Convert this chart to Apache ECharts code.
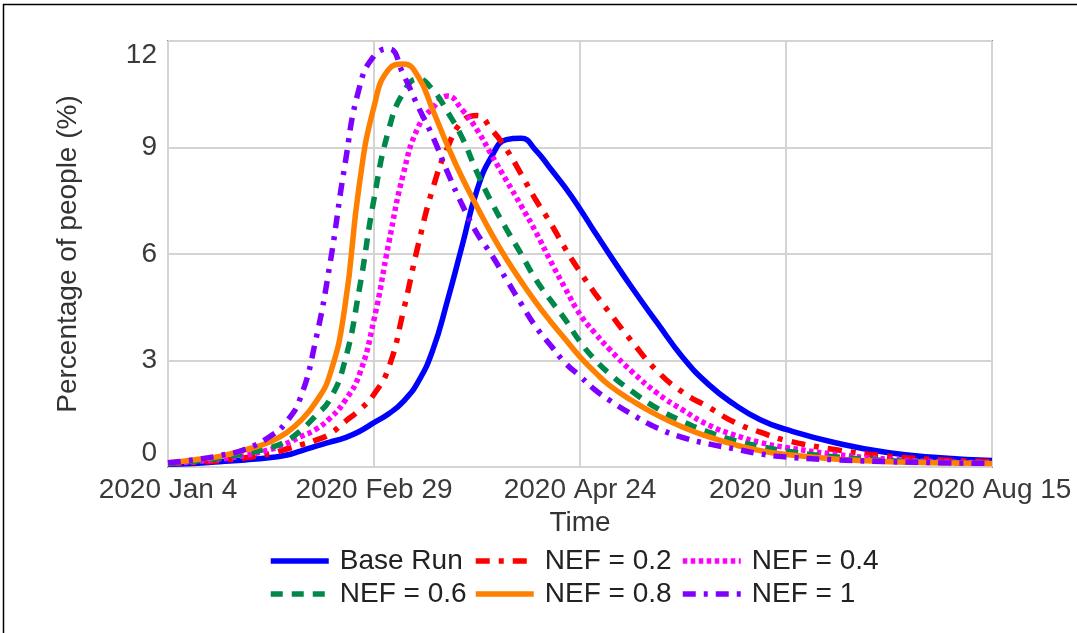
<!DOCTYPE html>
<html>
<head>
<meta charset="utf-8">
<script src="https://cdn.jsdelivr.net/npm/echarts@6/dist/echarts.min.js"></script>
<style>
html,body{margin:0;padding:0;background:#fff;}
#chart{width:1077px;height:633px;}
</style>
</head>
<body>
<div id="chart"></div>
<script>
// Day offsets from 2020 Jan 4
const days = [0,7,14,21,28,32,36,40,44,48,52,56,60,64,68,72,76,80,84,88,92,96,100,104,108,112,116,120,126,133,140,147,154,161,168,182,196,210,224];
const tickLabels = ['2020 Jan 4','2020 Feb 29','2020 Apr 24','2020 Jun 19','2020 Aug 15'];
const seriesNames = ['Base Run','NEF = 0.2','NEF = 0.4','NEF = 0.6','NEF = 0.8','NEF = 1'];

const baseRun = [0.08,0.1,0.15,0.2,0.27,0.33,0.45,0.58,0.7,0.82,1.0,1.25,1.5,1.85,2.4,3.3,4.7,6.25,7.8,8.75,9.22,9.26,8.92,8.4,7.87,7.27,6.62,5.99,5.07,4.06,3.08,2.32,1.76,1.33,1.06,0.67,0.4,0.26,0.18];
const nef02 = [0.1,0.13,0.18,0.26,0.38,0.5,0.62,0.75,0.93,1.27,1.6,2.05,2.8,4.4,6.25,7.85,9.0,9.73,9.9,9.5,8.95,8.25,7.52,6.87,6.15,5.5,4.9,4.35,3.55,2.7,2.1,1.68,1.26,0.98,0.75,0.48,0.3,0.2,0.15];
const nef04 = [0.1,0.15,0.22,0.33,0.5,0.65,0.85,1.05,1.37,1.85,2.6,4.15,6.3,8.27,9.57,10.12,10.45,10.06,9.5,8.78,8.07,7.36,6.62,5.8,5.03,4.3,3.78,3.32,2.7,2.08,1.6,1.18,0.9,0.69,0.55,0.35,0.22,0.15,0.12];
const nef06 = [0.1,0.16,0.25,0.38,0.55,0.72,1.02,1.43,1.9,2.95,5.0,7.55,9.5,10.55,10.93,10.62,10.0,9.27,8.3,7.45,6.7,6.0,5.28,4.7,4.15,3.53,3.03,2.63,2.14,1.65,1.28,0.98,0.75,0.58,0.45,0.28,0.18,0.13,0.1];
const nef08 = [0.12,0.2,0.3,0.48,0.72,0.95,1.3,1.8,2.6,4.45,7.95,10.15,11.2,11.35,11.0,10.05,9.05,8.14,7.33,6.56,5.86,5.23,4.64,4.1,3.6,3.1,2.68,2.3,1.88,1.46,1.12,0.85,0.63,0.46,0.35,0.22,0.15,0.12,0.1];
const nef10 = [0.12,0.2,0.32,0.5,0.88,1.25,1.95,3.5,5.7,8.45,10.68,11.58,11.78,11.05,10.15,9.3,8.3,7.38,6.58,5.97,5.28,4.6,3.95,3.43,2.93,2.56,2.18,1.88,1.49,1.1,0.83,0.65,0.51,0.37,0.28,0.2,0.15,0.12,0.1];

const allValues = [baseRun, nef02, nef04, nef06, nef08, nef10];
const colors = ['#0000ff','#ff0000','#ff00ff','#00884a','#ff8000','#8000ff'];
const dashes = ['solid',[14,9,5,9],[4.5,3.5],[12,9],'solid',[13,8,4,8]];

const FONT = 'Liberation Sans, Arial, sans-serif';
const chart = echarts.init(document.getElementById('chart'), null, {renderer:'canvas'});

const series = seriesNames.map((name, i) => ({
  name: name,
  type: 'line',
  data: days.map((d, k) => [d, allValues[i][k]]),
  symbol: 'none',
  smooth: 0.5,
  lineStyle: {color: colors[i], width: 5.5, type: dashes[i], cap: 'butt'},
  itemStyle: {color: colors[i]},
  z: 2 + i
}));

const legendPos = [[268,547],[473,547],[680,547],[268,580],[473,580],[680,580]];
const legends = seriesNames.map((name, i) => ({
  data: [name],
  left: legendPos[i][0],
  top: legendPos[i][1],
  orient: 'horizontal',
  itemWidth: 58,
  itemHeight: 14,
  padding: 0,
  itemStyle: {opacity: 0},
  lineStyle: {width: 5.5},
  textStyle: {fontFamily: FONT, fontSize: 28, color: '#222', padding: [0,0,0,6]}
}));

chart.setOption({
  animation: false,
  backgroundColor: '#ffffff',
  grid: {left: 168, right: 85, top: 41, bottom: 166, show: true, borderColor: '#8c8c8c', borderWidth: 2, backgroundColor: 'transparent'},
  xAxis: {
    type: 'value', min: 0, max: 224, interval: 56,
    name: 'Time', nameLocation: 'middle', nameGap: 40,
    nameTextStyle: {fontFamily: FONT, fontSize: 28, color: '#333'},
    axisLine: {show: false}, axisTick: {show: false},
    axisLabel: {fontFamily: FONT, fontSize: 28, color: '#3a3a3a', margin: 9,
      formatter: v => tickLabels[Math.round(v / 56)] || ''},
    splitLine: {show: true, lineStyle: {color: '#d4d4d4', width: 2}}
  },
  yAxis: {
    type: 'value', min: 0, max: 12, interval: 3,
    name: 'Percentage of people (%)', nameLocation: 'middle', nameGap: 86,
    nameTextStyle: {fontFamily: FONT, fontSize: 28, color: '#333'},
    axisLine: {show: false}, axisTick: {show: false},
    axisLabel: {fontFamily: FONT, fontSize: 28, color: '#3a3a3a', margin: 11,
      verticalAlignMinLabel: 'bottom', verticalAlignMaxLabel: 'top'},
    splitLine: {show: true, lineStyle: {color: '#d4d4d4', width: 2}}
  },
  legend: legends,
  graphic: [{
    type: 'rect', silent: true, z: 100,
    shape: {x: 3.5, y: 4.5, width: 1200, height: 800},
    style: {fill: 'none', stroke: '#000', lineWidth: 1.5}
  }],
  series: series
});
</script>
</body>
</html>
